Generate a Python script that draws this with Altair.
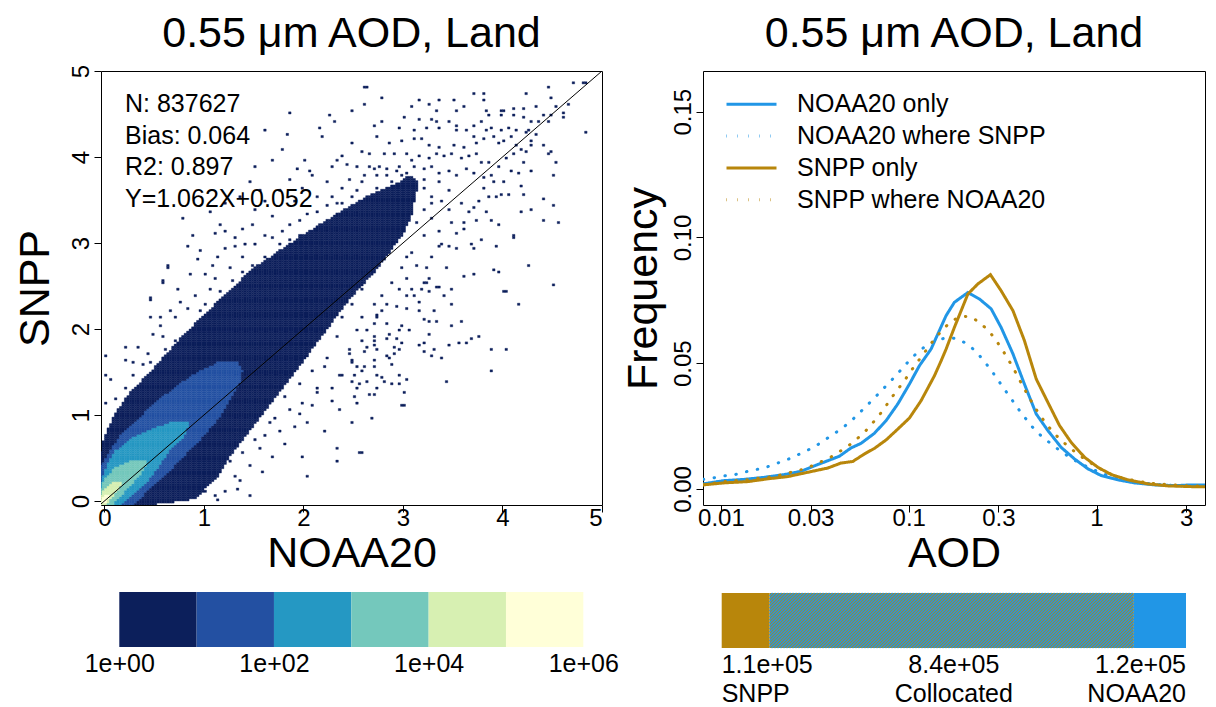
import json
import altair as alt
import numpy as np
import pandas as pd

FONT = "Liberation Sans"
BLUE = "#2196e6"
GOLD = "#b8860b"

# ---------------- text ----------------
panel_title = "0.55 μm AOD, Land"
stats_lines = ["N: 837627", "Bias: 0.064", "R2: 0.897", "Y=1.062X+0.052"]

# ---------------- scatter (2-D histogram) ----------------
scatter_ticks = [0, 1, 2, 3, 4, 5]
BIN = 0.025
GRID0 = -0.05
band_counts = [3, 30, 300, 3000, 30000, 300000]          # representative count per colour band
cb_breaks = [1, 10, 100, 1000, 10000, 100000, 1000000]
cb_colors = ["#0c1f5b", "#2350a2", "#2598c3", "#74c8bc", "#d7f0b2", "#ffffd8"]
cb_tick_values = [1, 100, 10000, 1000000]
cb_tick_labels = ["1e+00", "1e+02", "1e+04", "1e+06"]

# envelopes of each count band: SNPP value (y) -> NOAA20 range (x_left, x_right)
band1_y = [-0.05, 0.02, 0.25, 0.5, 0.75, 1.0, 1.25, 1.55, 1.94, 2.33, 2.71, 3.1, 3.35, 3.55, 3.7, 3.78]
band1_xl = [-0.05, -0.05, -0.05, -0.05, 0.0, 0.1, 0.25, 0.5, 0.8, 1.15, 1.5, 2.0, 2.35, 2.65, 2.95, 3.05]
band1_xr = [0.45, 0.9, 1.12, 1.25, 1.42, 1.58, 1.75, 1.95, 2.2, 2.45, 2.75, 3.0, 3.1, 3.12, 3.15, 3.1]

band2_y = [-0.05, 0.19, 0.39, 0.58, 0.78, 0.97, 1.16, 1.36, 1.51, 1.62]
band2_xl = [-0.05, -0.05, -0.05, 0.05, 0.17, 0.35, 0.52, 0.75, 0.95, 1.15]
band2_xr = [0.3, 0.49, 0.69, 0.85, 1.02, 1.16, 1.26, 1.36, 1.39, 1.35]

band3_y = [-0.05, 0.0, 0.2, 0.4, 0.58, 0.75, 0.85, 0.93]
band3_xl = [-0.05, -0.05, -0.05, 0.02, 0.1, 0.3, 0.5, 0.7]
band3_xr = [0.15, 0.22, 0.42, 0.55, 0.65, 0.8, 0.84, 0.84]

band4_y = [-0.05, 0.1, 0.2, 0.3, 0.4, 0.48]
band4_xl = [-0.05, -0.05, -0.02, 0.03, 0.12, 0.28]
band4_xr = [0.08, 0.2, 0.28, 0.36, 0.42, 0.42]

band5_y = [-0.05, 0.05, 0.12, 0.2, 0.23]
band5_xl = [-0.05, -0.05, -0.02, 0.06, 0.12]
band5_xr = [0.02, 0.08, 0.14, 0.18, 0.18]

band6_y = [-0.02, 0.05, 0.08]
band6_xl = [-0.03, -0.01, 0.02]
band6_xr = [0.02, 0.05, 0.05]

# isolated low-count cells (NOAA20, SNPP)
sparse_cells = [
    (2.62, 4.81), (2.80, 4.69), (2.62, 4.61), (2.50, 4.55), (3.72, 4.74), (3.81, 4.74), (4.25, 4.74),
    (4.45, 4.81), (4.72, 4.87), (4.83, 4.87), (3.16, 4.67), (3.37, 4.65), (3.51, 4.65), (3.82, 4.67),
    (4.50, 4.69), (3.09, 4.59), (3.27, 4.61), (3.33, 4.54), (3.53, 4.54), (3.60, 4.58), (3.83, 4.55),
    (3.87, 4.50), (3.98, 4.55), (4.02, 4.55), (4.12, 4.57), (4.20, 4.57), (4.35, 4.59), (4.55, 4.59),
    (4.65, 4.61), (4.40, 4.50), (4.49, 4.50), (4.61, 4.52), (4.61, 4.46), (3.98, 4.48), (4.12, 4.48),
    (4.20, 4.45), (4.30, 4.42), (4.37, 4.40), (4.47, 4.40), (4.83, 4.30), (2.78, 4.42), (3.01, 4.45),
    (3.17, 4.44), (3.28, 4.44), (3.33, 4.40), (3.35, 4.34), (3.46, 4.42), (3.55, 4.36), (3.53, 4.32),
    (3.63, 4.32), (3.70, 4.36), (3.80, 4.40), (3.84, 4.32), (3.90, 4.34), (3.99, 4.32), (4.07, 4.34),
    (4.14, 4.32), (4.24, 4.28), (4.27, 4.32), (4.35, 4.26), (2.70, 4.36), (2.96, 4.34), (3.12, 4.32),
    (3.23, 4.34), (2.73, 4.24), (2.86, 4.15), (3.00, 4.19), (3.12, 4.22), (3.18, 4.22), (3.27, 4.13),
    (3.37, 4.11), (3.52, 4.13), (3.62, 4.11), (3.72, 4.24), (3.73, 4.17), (3.82, 4.21), (3.92, 4.24),
    (3.95, 4.17), (4.02, 4.19), (4.09, 4.24), (4.14, 4.13), (4.19, 4.09), (4.24, 4.07), (4.30, 4.19),
    (4.40, 4.13), (4.49, 4.07), (4.29, 4.13), (2.50, 4.15), (2.60, 4.07), (2.66, 4.03), (2.81, 4.03),
    (2.91, 4.05), (3.05, 4.03), (3.17, 4.01), (3.27, 3.99), (3.33, 4.03), (3.42, 4.01), (3.50, 4.03),
    (3.59, 3.99), (3.67, 4.01), (3.73, 4.03), (3.78, 3.93), (3.87, 3.93), (3.95, 3.89), (4.04, 3.99),
    (4.12, 4.03), (4.22, 3.93), (4.47, 4.05), (4.54, 3.93), (4.10, 3.84), (4.17, 3.81), (4.29, 3.84),
    (4.51, 3.78), (2.39, 4.01), (2.33, 3.95), (2.29, 3.89), (2.43, 3.91), (2.55, 3.89), (2.66, 3.89),
    (2.76, 3.88), (2.85, 3.86), (2.93, 3.84), (3.03, 3.82), (3.12, 3.89), (3.20, 3.86), (3.30, 3.89),
    (3.37, 3.82), (3.45, 3.84), (3.55, 3.80), (3.63, 3.86), (3.70, 3.82), (3.81, 3.76), (3.90, 3.78),
    (3.92, 3.70), (4.02, 3.72), (3.82, 3.64), (4.19, 3.66), (4.00, 3.57), (4.07, 3.57), (4.20, 3.57),
    (4.40, 3.51), (4.51, 3.43), (4.19, 3.35), (4.30, 3.39), (4.42, 3.26), (4.56, 3.25), (4.12, 3.10),
    (4.12, 3.06), (4.27, 2.74), (4.51, 2.52), (3.95, 3.20), (3.90, 3.26), (3.73, 3.27), (3.84, 3.35),
    (3.67, 3.35), (3.70, 3.41), (3.58, 3.45), (3.77, 3.49), (3.85, 3.53), (3.94, 3.53), (3.60, 3.24),
    (3.60, 3.16), (3.55, 3.12), (3.80, 3.04), (3.72, 2.93), (3.94, 2.95), (3.68, 3.00), (3.92, 2.69),
    (3.97, 2.67), (3.43, 2.71), (3.60, 2.61), (3.70, 2.65), (3.35, 2.48), (3.50, 2.46), (3.27, 2.58),
    (3.45, 2.95), (3.55, 2.93), (3.37, 2.95),
    (2.45, 3.75), (2.60, 3.70), (2.75, 3.78), (2.90, 3.72), (3.05, 3.68), (3.20, 3.75), (3.35, 3.70),
    (2.55, 3.62), (2.85, 3.62), (3.15, 3.60), (3.30, 3.55), (3.40, 3.50), (3.45, 3.62), (2.70, 3.85),
    (3.00, 3.80), (2.40, 3.65), (3.30, 3.30), (3.35, 3.15), (3.40, 3.00), (3.30, 2.85), (3.25, 2.70),
    (3.45, 3.40), (3.50, 3.25), (3.20, 2.55), (3.10, 2.45), (3.30, 3.45),
    (2.50, 3.55), (2.65, 3.50), (2.80, 3.55), (2.95, 3.50), (3.10, 3.45), (3.20, 3.40), (2.60, 3.40),
    (2.75, 3.65), (3.05, 3.58), (2.35, 3.45), (2.50, 3.33), (3.15, 3.25), (3.20, 3.10), (3.10, 2.90),
    (3.15, 2.75), (3.05, 2.60), (2.95, 2.45), (2.85, 2.30), (2.75, 2.15), (2.65, 2.00),
    (2.85, 3.80), (3.10, 3.72), (2.95, 3.90), (3.22, 3.65), (2.62, 3.80), (3.08, 3.95),
    (4.03, 2.43), (4.17, 2.28), (3.49, 2.30), (3.41, 2.40), (3.34, 2.48), (3.23, 2.54), (3.19, 2.46),
    (3.26, 2.43), (3.32, 2.21), (3.17, 2.21), (3.22, 2.12), (3.27, 2.08), (3.34, 2.08), (3.49, 2.03),
    (3.59, 2.08), (3.27, 1.93), (3.06, 1.98), (3.76, 1.90), (3.68, 1.88), (3.63, 1.83), (3.56, 1.83),
    (3.46, 1.81), (3.32, 1.76), (3.22, 1.83), (3.17, 1.81), (3.22, 1.74), (3.29, 1.68), (3.39, 1.66),
    (3.90, 1.76), (4.05, 1.76), (3.90, 1.51), (3.44, 1.39), (3.05, 1.41), (2.95, 1.46), (3.02, 1.26),
    (3.02, 1.12), (2.95, 1.35), (2.82, 1.40), (2.78, 1.44), (2.88, 1.59), (2.72, 1.55), (2.70, 1.64),
    (2.83, 1.68), (2.92, 1.70), (2.92, 1.79), (2.95, 1.77), (3.00, 1.83), (2.75, 1.76), (2.71, 1.81),
    (2.71, 1.86), (2.72, 1.90), (2.83, 1.88), (2.93, 1.88), (2.61, 1.73), (2.53, 1.56), (2.61, 1.56),
    (2.58, 1.51), (2.51, 1.46), (2.63, 1.39), (2.49, 1.39), (2.55, 1.32), (2.73, 1.32), (2.70, 1.24),
    (2.52, 1.22), (2.53, 1.15), (2.68, 0.95), (2.48, 0.90), (2.57, 0.55), (2.47, 1.70), (2.48, 1.62),
    (2.60, 1.85), (2.70, 2.07), (2.83, 2.07), (2.95, 2.00), (3.00, 2.05), (3.05, 2.39), (3.12, 2.39),
    (3.17, 2.32), (2.93, 2.26), (3.03, 2.25), (2.80, 2.20),
    (0.02, 1.69), (0.00, 1.47), (0.00, 1.14), (0.07, 1.41), (0.39, 1.59), (0.44, 1.70), (0.45, 2.34),
    (0.59, 2.56), (0.64, 2.73), (0.74, 2.46), (0.77, 2.32), (0.85, 2.65), (0.89, 3.10), (0.79, 3.29),
    (0.94, 2.81), (0.95, 2.91), (1.11, 3.12), (1.17, 3.22), (1.22, 3.14), (1.32, 3.06), (1.39, 3.16),
    (1.49, 3.22), (0.84, 2.97), (1.02, 2.65), (1.09, 2.75), (1.14, 2.83), (1.22, 2.93), (1.32, 2.95),
    (1.42, 2.98), (1.52, 3.00), (1.61, 3.08), (1.69, 3.06), (1.78, 3.14), (1.86, 3.22), (1.96, 3.26),
    (2.03, 3.33), (2.13, 3.37), (2.23, 3.43), (1.96, 3.10), (1.69, 3.31), (1.52, 3.39), (0.65, 2.21),
    (0.72, 2.13), (0.84, 2.25), (0.55, 2.05), (0.49, 1.94), (0.35, 1.78), (0.59, 1.90), (0.95, 2.21),
    (1.16, 2.44), (1.29, 2.56), (1.39, 2.67), (1.49, 2.75), (1.62, 2.83), (1.76, 2.91), (1.89, 2.98),
    (2.30, 3.22), (2.43, 3.29), (2.56, 3.37),
    (0.70, 1.85), (0.60, 1.75), (0.45, 1.62), (0.30, 1.45), (0.20, 1.32), (0.12, 1.18), (1.00, 2.30),
    (1.05, 2.45), (1.25, 2.70), (1.40, 2.85), (1.75, 3.00), (1.85, 3.05), (1.10, 2.60), (0.90, 2.40),
    (2.73, 2.17), (2.86, 1.94), (2.63, 1.78), (2.50, 1.63), (2.73, 1.47), (2.90, 1.36), (2.36, 1.47),
    (2.13, 1.32), (2.30, 1.16), (2.09, 1.12), (1.96, 1.00), (2.36, 1.05), (2.66, 1.24), (2.56, 1.36),
    (2.86, 1.67),
    (2.04, 0.29), (1.47, 0.06), (1.34, 0.14), (1.59, 0.35), (1.68, 0.50), (2.00, 0.50), (2.33, 0.60),
    (2.33, 0.45), (2.58, 0.56), (2.68, 0.95), (3.00, 1.12), (3.02, 1.26), (3.43, 1.40), (3.90, 1.77),
    (4.17, 2.29), (4.02, 2.44), (4.57, 3.24), (4.51, 3.44), (4.84, 4.30), (4.71, 4.87), (4.82, 4.87),
    (2.63, 4.82), (1.86, 4.51), (2.26, 4.50), (2.31, 4.41), (2.49, 4.54), (2.16, 4.34), (2.18, 4.24),
    (1.78, 4.10), (1.84, 4.26), (1.62, 4.32), (1.69, 3.95), (1.51, 3.88), (1.46, 3.72), (2.01, 3.95),
    (1.94, 3.86), (2.06, 3.84), (0.64, 2.72), (0.59, 2.54), (0.45, 2.36), (0.47, 2.15), (0.57, 2.13),
    (0.22, 1.79), (0.05, 1.42), (0.22, 1.63), (0.30, 1.61),
    (1.10, 0.05), (1.20, 0.10), (1.05, 0.20), (1.30, 0.30), (1.45, 0.40), (1.25, 0.45), (1.55, 0.60),
    (1.60, 0.75), (1.75, 0.80), (1.40, 0.55), (1.15, 0.02), (1.80, 0.65), (1.90, 0.85), (2.05, 0.90),
    (1.70, 0.95), (2.20, 0.80), (1.85, 1.05), (2.00, 1.15), (2.15, 1.25), (2.30, 1.30), (2.40, 1.45),
    (2.20, 1.55), (2.45, 1.75), (2.35, 1.90), (2.55, 2.00), (2.60, 2.15), (2.70, 2.30), (2.80, 2.40),
    (2.90, 2.55), (3.00, 2.70), (3.05, 2.85), (1.50, 0.70), (1.65, 0.90), (1.80, 1.20), (1.95, 1.35),
    (2.10, 1.50), (2.25, 1.65), (2.40, 2.15), (2.50, 2.30), (2.60, 2.45), (1.35, 0.25), (1.00, 0.10),
    (1.20, 3.45), (1.35, 3.55), (1.60, 3.50), (1.75, 3.60), (1.90, 3.50), (2.00, 3.65), (2.15, 3.55),
    (2.25, 3.70), (1.85, 3.75), (2.10, 3.80), (2.30, 3.55), (1.55, 3.60), (1.05, 3.35), (2.40, 3.45),
]

# ---------------- frequency curves ----------------
aod_ticks = [0.01, 0.03, 0.1, 0.3, 1, 3]
freq_ticks = [0.0, 0.05, 0.10, 0.15]
series_names = ["NOAA20 only", "NOAA20 where SNPP", "SNPP only", "SNPP where NOAA20"]
series_colors = [BLUE, BLUE, GOLD, GOLD]
series_dashes = [[1, 0], [0.5, 10.5], [1, 0], [0.5, 10.5]]

n20_only_x = [0.00805, 0.01042, 0.01334, 0.01702, 0.02178, 0.02673, 0.03281, 0.03707, 0.04276, 0.04932,
              0.05572, 0.06561, 0.07586, 0.0875, 0.1009, 0.114, 0.1315, 0.1581, 0.175, 0.2065,
              0.2382, 0.2748, 0.3105, 0.3589, 0.413, 0.4775, 0.5508, 0.6486, 0.7638, 0.8995,
              1.059, 1.3, 1.592, 2.037, 2.606, 3.199, 3.776]
n20_only_y = [0.0020, 0.0033, 0.0038, 0.0046, 0.0057, 0.0070, 0.0097, 0.0112, 0.0130, 0.0163,
              0.0181, 0.0221, 0.0272, 0.0338, 0.0417, 0.0490, 0.0556, 0.0689, 0.0742, 0.0781,
              0.0755, 0.0716, 0.0642, 0.0537, 0.0417, 0.0298, 0.0232, 0.0165, 0.0119, 0.0080,
              0.0053, 0.0036, 0.0024, 0.0016, 0.0013, 0.0016, 0.0016]

n20_coll_x = [0.00805, 0.009162, 0.01042, 0.01189, 0.01355, 0.01545, 0.01754, 0.01991, 0.02249, 0.02541,
              0.02864, 0.03221, 0.03597, 0.04018, 0.04487, 0.04977, 0.05458, 0.05998, 0.06592, 0.07244,
              0.07925, 0.0867, 0.09484, 0.1038, 0.1146, 0.1265, 0.1429, 0.1626, 0.1841, 0.2065,
              0.2286, 0.2489, 0.2704, 0.2924, 0.3148, 0.3396, 0.3673, 0.3972, 0.4305, 0.4677,
              0.5176, 0.5741, 0.6383, 0.7129, 0.7962, 0.9376, 1.104, 1.355, 1.73, 2.213, 2.825, 3.776]
n20_coll_y = [0.0038, 0.0044, 0.0052, 0.0057, 0.0068, 0.0077, 0.0087, 0.0102, 0.0116, 0.0134,
              0.0152, 0.0172, 0.0196, 0.0220, 0.0245, 0.0273, 0.0302, 0.0332, 0.0363, 0.0395,
              0.0425, 0.0456, 0.0489, 0.0521, 0.0551, 0.0574, 0.0592, 0.0603, 0.0596, 0.0574,
              0.0546, 0.0513, 0.0479, 0.0444, 0.0408, 0.0374, 0.0338, 0.0302, 0.0269, 0.0236,
              0.0205, 0.0179, 0.0152, 0.0128, 0.0106, 0.0080, 0.0058, 0.0037, 0.0024, 0.0016, 0.0012, 0.0010]

snpp_only_x = [0.00805, 0.01042, 0.0139, 0.01774, 0.0227, 0.02897, 0.03707, 0.04365, 0.05035, 0.05808,
               0.06561, 0.07586, 0.0875, 0.1009, 0.1164, 0.1371, 0.1489, 0.1581, 0.175, 0.2065,
               0.2333, 0.2723, 0.3105, 0.3589, 0.413, 0.4775, 0.5508, 0.6353, 0.7328, 0.863,
               1.016, 1.197, 1.469, 1.879, 2.399, 3.199, 3.776]
snpp_only_y = [0.0016, 0.0024, 0.0029, 0.0040, 0.0049, 0.0066, 0.0083, 0.0103, 0.0109, 0.0139,
               0.0161, 0.0195, 0.0238, 0.0282, 0.0351, 0.0450, 0.0510, 0.0556, 0.0642, 0.0775,
               0.0815, 0.0852, 0.0788, 0.0709, 0.0590, 0.0437, 0.0344, 0.0252, 0.0185, 0.0126,
               0.0086, 0.0057, 0.0036, 0.0020, 0.0012, 0.0009, 0.0009]

snpp_coll_x = [0.00805, 0.01042, 0.01178, 0.01361, 0.0157, 0.01774, 0.02023, 0.02296, 0.02618, 0.02958,
               0.03342, 0.03784, 0.04236, 0.04732, 0.05248, 0.05808, 0.06353, 0.06934, 0.07516, 0.08054,
               0.0875, 0.09484, 0.1021, 0.1104, 0.1194, 0.1288, 0.14, 0.1531, 0.1683, 0.1884,
               0.2133, 0.2382, 0.2636, 0.2864, 0.3083, 0.3304, 0.354, 0.3767, 0.4009, 0.4276,
               0.456, 0.4909, 0.5284, 0.5741, 0.6281, 0.6918, 0.7709, 0.863, 0.9772, 1.127,
               1.327, 1.592, 1.954, 2.5, 3.199, 3.776]
snpp_coll_y = [0.0016, 0.0029, 0.0033, 0.0036, 0.0042, 0.0046, 0.0053, 0.0064, 0.0074, 0.0087,
               0.0105, 0.0123, 0.0146, 0.0169, 0.0196, 0.0225, 0.0258, 0.0291, 0.0327, 0.0360,
               0.0396, 0.0430, 0.0466, 0.0501, 0.0535, 0.0570, 0.0604, 0.0637, 0.0666, 0.0686,
               0.0685, 0.0662, 0.0632, 0.0600, 0.0564, 0.0529, 0.0490, 0.0454, 0.0415, 0.0378,
               0.0340, 0.0302, 0.0268, 0.0234, 0.0203, 0.0175, 0.0146, 0.0119, 0.0093, 0.0066,
               0.0046, 0.0033, 0.0022, 0.0016, 0.0012, 0.0011]

# ---------------- retrieval counts bar ----------------
bar_names = ["SNPP", "Collocated", "NOAA20"]
bar_counts = [110000, 837627, 120000]

# =====================================================================
# build tables
n_grid = int(round((5.0 - GRID0) / BIN))
levels = {}


def add_band(ys, xl, xr, lev):
    for j in range(n_grid):
        yc = GRID0 + (j + 0.5) * BIN
        if yc < ys[0] or yc > ys[-1]:
            continue
        a = np.interp(yc, ys, xl)
        b = np.interp(yc, ys, xr)
        for i in range(n_grid):
            xc = GRID0 + (i + 0.5) * BIN
            if a <= xc <= b:
                levels[(i, j)] = max(levels.get((i, j), 0), lev)


for lev, (by, bl, br) in enumerate([(band1_y, band1_xl, band1_xr), (band2_y, band2_xl, band2_xr),
                                      (band3_y, band3_xl, band3_xr), (band4_y, band4_xl, band4_xr),
                                      (band5_y, band5_xl, band5_xr), (band6_y, band6_xl, band6_xr)], start=1):
    add_band(by, bl, br, lev)

for (sx, sy) in sparse_cells:
    key = (int(np.floor((sx - GRID0) / BIN)), int(np.floor((sy - GRID0) / BIN)))
    levels[key] = max(levels.get(key, 0), 1)

cell_rows = []
for (i, j), lev in levels.items():
    x0 = GRID0 + i * BIN
    y0 = GRID0 + j * BIN
    cell_rows.append({"x0": round(x0, 4), "x1": round(x0 + BIN, 4), "y0": round(y0, 4),
                      "y1": round(y0 + BIN, 4), "count": band_counts[lev - 1]})
cell_df = pd.DataFrame(cell_rows)

count_scale = alt.Scale(type="threshold", domain=cb_breaks[1:-1], range=cb_colors)

axis_base = dict(domain=False, grid=False, ticks=True, tickColor="black", tickSize=7, tickWidth=1,
                 labelColor="black", labelFontSize=24, labelFont=FONT, titleFont=FONT,
                 titleFontSize=43, titleFontWeight="normal", titleColor="black", labelOverlap=False)

title_base = dict(text=panel_title, fontSize=43, fontWeight="normal", font=FONT, color="black")

# ---- scatter panel ----
sx_scale = alt.Scale(domain=[-0.035, 5.0], nice=False, zero=False)
sy_scale = alt.Scale(domain=[-0.047, 5.0], nice=False, zero=False)

cells = alt.Chart(cell_df).mark_rect(clip=True, strokeWidth=0.4).encode(
    x=alt.X("x0:Q", scale=sx_scale,
            axis=alt.Axis(values=scatter_ticks, format="~g", title="NOAA20", labelPadding=-6,
                          titlePadding=2, **axis_base)),
    x2="x1:Q",
    y=alt.Y("y0:Q", scale=sy_scale,
            axis=alt.Axis(values=scatter_ticks, format="~g", title="SNPP", labelAngle=270, labelAlign="center",
                          labelBaseline="bottom", labelPadding=1, titlePadding=12, **axis_base)),
    y2="y1:Q",
    color=alt.Color("count:Q", scale=count_scale, legend=None),
    stroke=alt.Stroke("count:Q", scale=count_scale, legend=None),
)

diag_df = pd.DataFrame({"v": [-0.05, 5.0]})
diag = alt.Chart(diag_df).mark_line(color="black", strokeWidth=1, clip=True).encode(
    x=alt.X("v:Q", scale=sx_scale), y=alt.Y("v:Q", scale=sy_scale))

stats_df = pd.DataFrame({"t": ["\n".join(stats_lines)]})
stats = alt.Chart(stats_df).mark_text(align="left", baseline="middle", fontSize=25, font=FONT,
                                      color="black", lineBreak="\n", lineHeight=31.7).encode(
    x=alt.value(24), y=alt.value(33), text="t:N")

scatter = alt.layer(cells, diag, stats).properties(
    width=501, height=434, title=alt.TitleParams(offset=8, **title_base),
    view=alt.ViewBackground(stroke="black", strokeWidth=1))

# ---- colour bar ----
cb_df = pd.DataFrame({"lo": cb_breaks[:-1], "hi": cb_breaks[1:]})
cb_df["mid"] = np.sqrt(cb_df["lo"] * cb_df["hi"])
label_expr = " : ".join(f"datum.value == {v} ? '{t}'" for v, t in zip(cb_tick_values, cb_tick_labels)) + " : ''"
colorbar = alt.Chart(cb_df).mark_rect().encode(
    x=alt.X("lo:Q", scale=alt.Scale(type="log", domain=[0.58, 1.745e6], nice=False),
            axis=alt.Axis(values=cb_tick_values, labelExpr=label_expr, ticks=False, domain=False, grid=False,
                          title=None, labelPadding=4, labelFontSize=25, labelFont=FONT, labelColor="black",
                          labelOverlap=False)),
    x2="hi:Q",
    color=alt.Color("mid:Q", scale=count_scale, legend=None),
).properties(width=501, height=55, view=alt.ViewBackground(stroke="transparent"))

# ---- frequency panel ----
freq_parts = []
for name, xs, ys in zip(series_names, [n20_only_x, n20_coll_x, snpp_only_x, snpp_coll_x],
                        [n20_only_y, n20_coll_y, snpp_only_y, snpp_coll_y]):
    freq_parts.append(pd.DataFrame({"aod": xs, "freq": ys, "series": name}))
freq_df = pd.concat(freq_parts, ignore_index=True)

dash_expr = " : ".join(f"datum.value == '{n}' ? {json.dumps(d)}" for n, d in zip(series_names, series_dashes)) + " : [1, 0]"
leg = alt.Legend(orient="none", legendX=34.5, legendY=19.3, title=None, symbolType="M-2,0L2,0",
                 symbolSize=625, symbolStrokeWidth=3, labelFontSize=25, labelFont=FONT, labelColor="black",
                 labelOffset=31.5, rowPadding=4.8, padding=0, labelLimit=500,
                 symbolDash=alt.ExprRef(expr=dash_expr))

freq = alt.Chart(freq_df).mark_line(strokeWidth=3, clip=True, strokeCap="round").encode(
    x=alt.X("aod:Q", scale=alt.Scale(type="log", domain=[0.00803, 3.78], nice=False),
            axis=alt.Axis(values=aod_ticks, format="~g", title="AOD", labelPadding=-6, titlePadding=2,
                          **axis_base)),
    y=alt.Y("freq:Q", scale=alt.Scale(domain=[-0.0064, 0.1662], nice=False, zero=False),
            axis=alt.Axis(values=freq_ticks, format=".2f", title="Frequency", labelAngle=270,
                          labelAlign="center", labelBaseline="bottom", labelPadding=1, titlePadding=6,
                          **axis_base)),
    color=alt.Color("series:N", scale=alt.Scale(domain=series_names, range=series_colors), legend=leg),
    strokeDash=alt.StrokeDash("series:N", scale=alt.Scale(domain=series_names, range=series_dashes),
                              legend=None),
).properties(width=502, height=434, title=alt.TitleParams(offset=15, **title_base),
             view=alt.ViewBackground(stroke="black", strokeWidth=1))

# ---- counts bar ----
bar_df = pd.DataFrame({"name": bar_names, "count": bar_counts})
bar_df["end"] = bar_df["count"].cumsum()
bar_df["start"] = bar_df["end"] - bar_df["count"]
total = float(bar_df["count"].sum())
bar_df["label"] = [f"{c:.1e}\n{n}" for c, n in zip(bar_counts, bar_names)]
bar_df["pos"] = [0.0, total / 2, total]
BAR_W, BAR_H = 502, 55
bar_dom = [-43000.0, total + 43700.0]
bar_scale = alt.Scale(domain=bar_dom, nice=False, zero=False)

# hatch lines "/" over the collocated segment, clipped to it (3 px spacing)
units_per_px = (bar_dom[1] - bar_dom[0]) / BAR_W
rise = BAR_H * units_per_px
step = 3.0 * units_per_px
a_seg = float(bar_df.loc[1, "start"])
b_seg = float(bar_df.loc[1, "end"])
hatch_rows = []
x0 = a_seg - rise
while x0 < b_seg:
    s0 = max(0.0, (a_seg - x0) / rise)
    s1 = min(1.0, (b_seg - x0) / rise)
    if s1 > s0:
        hatch_rows.append({"hx": x0 + s0 * rise, "hx2": x0 + s1 * rise, "hy": s0, "hy2": s1})
    x0 += step
hatch_df = pd.DataFrame(hatch_rows)
unit_y = alt.Scale(domain=[0, 1], nice=False, zero=False)

bar_solid = alt.Chart(bar_df).mark_rect().encode(
    x=alt.X("start:Q", scale=bar_scale, axis=None), x2="end:Q",
    fill=alt.Fill("name:N", scale=alt.Scale(domain=bar_names, range=[GOLD, GOLD, BLUE]), legend=None))
bar_hatch = alt.Chart(hatch_df).mark_rule(color=BLUE, strokeWidth=1.3, strokeCap="butt").encode(
    x=alt.X("hx:Q", scale=bar_scale, axis=None), x2="hx2:Q",
    y=alt.Y("hy:Q", scale=unit_y, axis=None), y2="hy2:Q")
bar_texts = []
for n, a in zip(bar_names, ["left", "center", "right"]):
    bar_texts.append(alt.Chart(bar_df).transform_filter(alt.datum.name == n).mark_text(
        align=a, baseline="top", fontSize=25, font=FONT, color="black", lineBreak="\n", lineHeight=28.5).encode(
        x=alt.X("pos:Q", scale=bar_scale, axis=None), y=alt.value(60), text="label:N"))
bar = alt.layer(bar_solid, bar_hatch, *bar_texts).properties(
    width=BAR_W, height=BAR_H, view=alt.ViewBackground(stroke="transparent"))

left_col = alt.vconcat(scatter, colorbar, spacing=15).resolve_scale(color="independent")
right_col = alt.vconcat(freq, bar, spacing=15).resolve_scale(color="independent", fill="independent")
chart = alt.hconcat(left_col, right_col, spacing=2).resolve_scale(
    color="independent", strokeDash="independent", stroke="independent", fill="independent"
).properties(
    padding={"left": 5, "top": 4, "right": 0, "bottom": 0}
).configure(font=FONT).configure_view(stroke="transparent")

chart.save("out.html", embed_options={"renderer": "svg", "actions": False})
